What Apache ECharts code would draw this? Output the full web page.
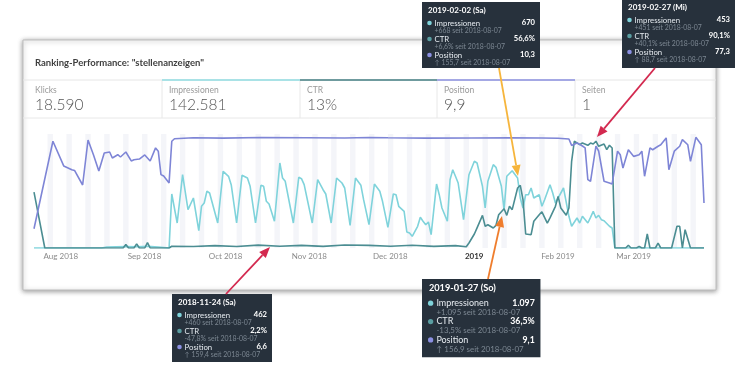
<!DOCTYPE html>
<html><head><meta charset="utf-8">
<script src="https://cdn.jsdelivr.net/npm/echarts@6/dist/echarts.min.js"></script>
<style>html,body{margin:0;padding:0;background:#fff}#c{width:738px;height:367px}</style>
</head><body><div id="c"></div>
<script>
// ---- data ----
const impressionen = [
['2018-07-23',0],['2018-08-17',0],['2018-08-19',10],['2018-08-26',15],['2018-08-30',12],['2018-09-03',18],['2018-09-07',10],['2018-09-11',0],
['2018-09-12',540],['2018-09-14',250],['2018-09-16',733],['2018-09-18',383],['2018-09-20',500],['2018-09-22',173],['2018-09-23',417],['2018-09-24',450],['2018-09-25',567],['2018-09-26',550],['2018-09-29',250],
['2018-10-01',767],['2018-10-03',717],['2018-10-04',633],['2018-10-06',250],['2018-10-08',727],['2018-10-10',700],['2018-10-11',617],['2018-10-13',250],['2018-10-15',627],['2018-10-16',617],['2018-10-17',467],['2018-10-18',440],['2018-10-20',267],['2018-10-22',850],['2018-10-23',700],['2018-10-24',667],['2018-10-27',250],['2018-10-29',707],['2018-10-30',693],['2018-10-31',633],
['2018-11-03',250],['2018-11-05',683],['2018-11-07',583],['2018-11-08',540],['2018-11-10',250],['2018-11-12',700],['2018-11-14',650],['2018-11-15',600],['2018-11-17',227],['2018-11-19',700],['2018-11-21',627],['2018-11-22',483],['2018-11-24',233],['2018-11-26',640],['2018-11-28',567],['2018-11-29',467],
['2018-12-01',207],['2018-12-03',540],['2018-12-04',533],['2018-12-05',417],['2018-12-07',367],['2018-12-08',160],['2018-12-09',150],['2018-12-10',117],['2018-12-12',217],['2018-12-13',307],['2018-12-14',267],['2018-12-15',233],['2018-12-16',260],['2018-12-17',133],['2018-12-19',640],['2018-12-20',533],['2018-12-21',400],['2018-12-23',267],['2018-12-24',683],['2018-12-25',783],['2018-12-26',717],['2018-12-27',650],['2018-12-29',283],['2018-12-31',733],
['2019-01-02',867],['2019-01-03',850],['2019-01-05',617],['2019-01-06',400],['2019-01-07',667],['2019-01-09',833],['2019-01-10',807],['2019-01-12',617],['2019-01-13',383],['2019-01-14',717],['2019-01-16',773],['2019-01-18',700],['2019-01-19',500],['2019-01-20',400],['2019-01-21',533],['2019-01-22',533],['2019-01-23',600],['2019-01-24',500],['2019-01-26',533],['2019-01-27',417],['2019-01-28',483],['2019-01-30',633],['2019-01-31',550],
['2019-02-01',450],['2019-02-03',550],['2019-02-04',600],['2019-02-06',317],['2019-02-07',217],['2019-02-09',300],['2019-02-10',250],['2019-02-11',317],['2019-02-13',250],['2019-02-14',307],['2019-02-15',367],['2019-02-16',300],['2019-02-17',327],['2019-02-18',283],['2019-02-19',273],['2019-02-21',217],['2019-02-22',200],['2019-02-23',0],['2019-03-28',0]
];
const ctr = [
['2018-07-23',47],['2018-07-27',0],['2018-08-25',0],['2018-08-26',3],['2018-08-27',0],['2018-08-29',0],['2018-08-30',3.5],['2018-08-31',0],['2018-09-02',0],['2018-09-03',4.5],['2018-09-04',0],['2018-09-11',0],['2018-09-12',1.5],['2018-09-20',1.2],['2018-09-28',2],['2018-10-06',1.3],['2018-10-14',2.4],['2018-10-22',1.5],['2018-10-30',2.2],['2018-11-07',1.4],['2018-11-15',2.5],['2018-11-24',2.2],['2018-12-02',1.5],['2018-12-10',2.3],['2018-12-18',1.4],['2018-12-26',2],['2018-12-30',1],['2018-12-31',4.2],
['2019-01-02',11.8],['2019-01-03',17],['2019-01-05',27.5],['2019-01-06',18.3],['2019-01-07',19.6],['2019-01-09',16.8],['2019-01-10',19.1],['2019-01-11',28],['2019-01-13',33.1],['2019-01-14',27.5],['2019-01-15',35.1],['2019-01-16',32.3],['2019-01-18',50.5],['2019-01-19',52.8],['2019-01-20',40.7],['2019-01-21',11.8],['2019-01-23',11.2],['2019-01-24',22.5],['2019-01-26',28],['2019-01-27',30.5],['2019-01-29',21],['2019-01-30',25.3],
['2019-02-01',35.1],['2019-02-02',43.5],['2019-02-03',33.7],['2019-02-05',27.5],['2019-02-06',33.7],['2019-02-07',73],['2019-02-08',89.9],['2019-02-10',87],['2019-02-11',88.4],['2019-02-13',86.5],['2019-02-14',88.4],['2019-02-15',87.6],['2019-02-16',89.9],['2019-02-17',85.6],['2019-02-19',87.6],['2019-02-20',82.8],['2019-02-21',86.5],['2019-02-22',84.2],['2019-02-23',0],
['2019-02-27',0],['2019-02-28',2.3],['2019-03-01',0],['2019-03-03',0],['2019-03-04',1.4],['2019-03-05',0],['2019-03-06',0],['2019-03-07',11.8],['2019-03-08',0],['2019-03-10',0],['2019-03-11',4.2],['2019-03-12',0],['2019-03-16',0],['2019-03-18',18.3],['2019-03-19',18.3],['2019-03-20',0],['2019-03-21',15.4],['2019-03-23',0],['2019-03-28',0]
];
const position = [
['2018-07-23',447],['2018-07-30',25],['2018-08-03',144],['2018-08-06',162],['2018-08-07',166],['2018-08-10',236],['2018-08-12',19],['2018-08-14',90],['2018-08-16',168],['2018-08-18',82],['2018-08-20',77],['2018-08-21',106],['2018-08-23',90],['2018-08-24',101],['2018-08-26',77],['2018-08-28',120],['2018-08-29',114],['2018-08-31',111],['2018-09-02',91],['2018-09-04',120],['2018-09-06',57],['2018-09-07',73],['2018-09-08',186],['2018-09-09',193],['2018-09-11',226],['2018-09-12',25],['2018-09-13',13],
['2018-09-20',8],['2018-10-01',10],['2018-10-15',7],['2018-11-01',8],['2018-11-15',9],['2018-11-24',6.6],['2018-12-01',8],['2018-12-15',10],['2019-01-01',9],['2019-01-15',8],['2019-01-27',9.1],['2019-02-02',10.3],['2019-02-06',14],
['2019-02-07',45],['2019-02-09',33],['2019-02-11',48],['2019-02-12',57],['2019-02-13',210],['2019-02-14',218],['2019-02-16',49],['2019-02-17',72],['2019-02-19',218],['2019-02-21',226],['2019-02-22',231],['2019-02-24',73],['2019-02-25',90],['2019-02-26',154],['2019-02-28',66],['2019-03-02',98],['2019-03-04',90],['2019-03-05',73],['2019-03-06',194],['2019-03-08',57],['2019-03-09',66],['2019-03-11',49],['2019-03-12',42],['2019-03-14',9],['2019-03-15',162],['2019-03-17',73],['2019-03-19',49],['2019-03-20',17],['2019-03-22',42],['2019-03-23',122],['2019-03-25',6],['2019-03-27',42],['2019-03-28',323]
];
const tickDates = ['2018-08-01','2018-09-01','2018-10-01','2018-11-01','2018-12-01','2019-01-01','2019-02-01','2019-03-01'];
const tickLabels = ['Aug 2018','Sep 2018','Oct 2018','Nov 2018','Dec 2018','2019','Feb 2019','Mar 2019'];
const kpiLabels = ['Klicks','Impressionen','CTR','Position','Seiten'];
const kpiValues = ['18.590','142.581','13%','9,9','1'];
const chartTitle = 'Ranking-Performance: "stellenanzeigen"';
const tipSeries = ['Impressionen','CTR','Position'];
const tipData = [
  {date:'2019-02-02 (Sa)', values:['670','56,6%','10,3'], deltas:['+668 seit 2018-08-07','+6,6% seit 2018-08-07','↑ 155,7 seit 2018-08-07']},
  {date:'2019-02-27 (Mi)', values:['453','90,1%','77,3'], deltas:['+451 seit 2018-08-07','+40,1% seit 2018-08-07','↑ 88,7 seit 2018-08-07']},
  {date:'2018-11-24 (Sa)', values:['462','2,2%','6,6'], deltas:['+460 seit 2018-08-07','-47,8% seit 2018-08-07','↑ 159,4 seit 2018-08-07']},
  {date:'2019-01-27 (So)', values:['1.097','36,5%','9,1'], deltas:['+1.095 seit 2018-08-07','-13,5% seit 2018-08-07','↑ 156,9 seit 2018-08-07']}
];

// ---- styling / layout ----
const C_IMP = '#7fd3db', C_CTR = '#4b8d92', C_POS = '#7e85d6';
const FONT = 'Lato, "Open Sans", sans-serif';
const DAY = 86400000;
const toTime = d => echarts.number.parseDate(d).getTime();
const asTime = arr => arr.map(p => [toTime(p[0]), p[1]]);
const tickTimes = tickDates.map(toTime);
const axisMin = toTime('2018-07-23');
const axisMax = toTime('2019-03-28');
const weekends = [];
for (let t = toTime('2018-07-28'); t < axisMax; t += 7 * DAY) {
  weekends.push([{xAxis: t}, {xAxis: Math.min(t + 2 * DAY, axisMax)}]);
}

function txt(x, y, text, size, fill, opts) {
  opts = opts || {};
  return {type:'text', x:x, y:y, z: opts.z || 10, silent:true,
    style:{text:text, fontSize:size, fontFamily:FONT, fontWeight: opts.weight || 'normal', fill:fill,
      textAlign: opts.align || 'left', align: opts.align || 'left', textVerticalAlign:'middle', verticalAlign:'middle'}};
}
function arrow(x1, y1, x2, y2, color) {
  const a = Math.atan2(y2 - y1, x2 - x1), L = 11, W = 4.5;
  const bx = x2 - L * Math.cos(a), by = y2 - L * Math.sin(a);
  const px = -Math.sin(a) * W, py = Math.cos(a) * W;
  return [
    {type:'line', z:60, silent:true, shape:{x1:x1, y1:y1, x2:bx, y2:by}, style:{stroke:color, lineWidth:1.8}},
    {type:'polygon', z:60, silent:true, shape:{points:[[x2,y2],[bx+px,by+py],[bx-px,by-py]]}, style:{fill:color}}
  ];
}
function tooltipBox(t, x, y, w, h, s) {
  const dots = [C_IMP, '#5a9ea2', '#8b90e2'];
  const ch = [{type:'rect', z:50, silent:true, shape:{x:0, y:0, width:w, height:h}, style:{fill:'#27313c'}}];
  ch.push(txt(6, 8, t.date, 8, '#ffffff', {weight:'bold', z:51}));
  [21, 37, 53].forEach((ry, i) => {
    ch.push({type:'circle', z:51, silent:true, shape:{cx:7.5, cy:ry, r:2.3}, style:{fill:dots[i]}});
    ch.push(txt(12.5, ry, tipSeries[i], 7.8, '#e6ebf0', {z:51}));
    ch.push(txt(w - 5, ry, t.values[i], 7.6, '#ffffff', {z:51, weight:'bold', align:'right'}));
    ch.push(txt(12.5, ry + 8, t.deltas[i], 6.9, '#7c8792', {z:51}));
  });
  return {type:'group', x:x, y:y, scaleX:s, scaleY:s, children:ch};
}

const graphics = [];
graphics.push({type:'rect', z:0, silent:true, shape:{x:23, y:40, width:693, height:250},
  style:{fill:'#fff', stroke:'#bdbdbd', lineWidth:1, shadowBlur:5, shadowColor:'rgba(0,0,0,0.4)', shadowOffsetY:1}});
graphics.push(txt(35, 63, chartTitle, 9.5, '#3f3f3f', {weight:'bold', z:1}));
const tileX = [23, 162, 300, 437, 575, 716];
const tileTop = [null, '#a9e2e6', '#6f9b9e', '#a4a8e4', null];
graphics.push({type:'line', z:1, silent:true, shape:{x1:23, y1:80, x2:716, y2:80}, style:{stroke:'#e6e6e6', lineWidth:1}});
graphics.push({type:'line', z:1, silent:true, shape:{x1:23, y1:118, x2:716, y2:118}, style:{stroke:'#e8e8e8', lineWidth:1}});
for (let i = 0; i < 5; i++) {
  if (tileTop[i]) graphics.push({type:'line', z:2, silent:true, shape:{x1:tileX[i], y1:80, x2:tileX[i+1], y2:80}, style:{stroke:tileTop[i], lineWidth:2}});
  if (i > 0) graphics.push({type:'line', z:1, silent:true, shape:{x1:tileX[i], y1:80, x2:tileX[i], y2:118}, style:{stroke:'#e8e8e8', lineWidth:1}});
  const lx = i === 0 ? 35 : tileX[i] + 7;
  graphics.push(txt(lx, 90, kpiLabels[i], 8.5, '#9a9a9a', {z:2}));
  graphics.push(txt(lx, 105, kpiValues[i], 15.5, '#555555', {z:2, weight:300}));
}
graphics.push(tooltipBox(tipData[0], 422, 2, 118, 66, 1));
graphics.push(tooltipBox(tipData[1], 622, -1, 113, 69, 1));
graphics.push(tooltipBox(tipData[2], 172, 294, 100, 68, 1));
graphics.push(tooltipBox(tipData[3], 422, 279, 103, 68, 1.15));
graphics.push(...arrow(226, 294, 270, 247, '#d3294f'));
graphics.push(...arrow(655, 68, 597, 137, '#d3294f'));
graphics.push(...arrow(499, 68, 518, 176, '#f6b53c'));
graphics.push(...arrow(488, 279, 502, 216, '#ef7d2d'));

const chart = echarts.init(document.getElementById('c'), null, {renderer:'canvas'});
chart.setOption({
  animation:false,
  backgroundColor:'#ffffff',
  grid:{left:34, right:34, top:134, bottom:119, containLabel:false},
  xAxis:{type:'value', min:axisMin, max:axisMax, scale:true,
    axisLine:{show:false}, axisTick:{show:false}, splitLine:{show:false},
    axisLabel:{customValues:tickTimes, margin:4, color:'#8a8a8a', fontSize:8, fontFamily:FONT, padding:[0,0,0,5],
      formatter:function(v){ const i = tickTimes.indexOf(v); if (i < 0) return ''; return /^\d{4}$/.test(tickLabels[i]) ? '{b|' + tickLabels[i] + '}' : tickLabels[i]; },
      rich:{b:{fontWeight:'bold', color:'#333', fontSize:8, fontFamily:FONT}}}},
  yAxis:[
    {type:'value', min:0, max:1140, show:false, splitLine:{show:false}},
    {type:'value', min:0, max:96, show:false, splitLine:{show:false}},
    {type:'value', min:-10, max:540, inverse:true, show:false, splitLine:{show:false}}
  ],
  graphic:{elements:graphics},
  series:[
    {type:'line', name:'weekend', z:1, data:[], yAxisIndex:0, silent:true,
      markArea:{silent:true, itemStyle:{color:'#f4f5f9'}, data:weekends}},
    {type:'line', name:'Impressionen', z:3, yAxisIndex:0, data:asTime(impressionen), showSymbol:false, silent:true,
      lineStyle:{color:C_IMP, width:1.6}, itemStyle:{color:C_IMP}},
    {type:'line', name:'CTR', z:4, yAxisIndex:1, data:asTime(ctr), showSymbol:false, silent:true,
      lineStyle:{color:C_CTR, width:1.6}, itemStyle:{color:C_CTR}},
    {type:'line', name:'Position', z:5, yAxisIndex:2, data:asTime(position), showSymbol:false, silent:true,
      lineStyle:{color:C_POS, width:1.6}, itemStyle:{color:C_POS}}
  ]
});
</script></body></html>
